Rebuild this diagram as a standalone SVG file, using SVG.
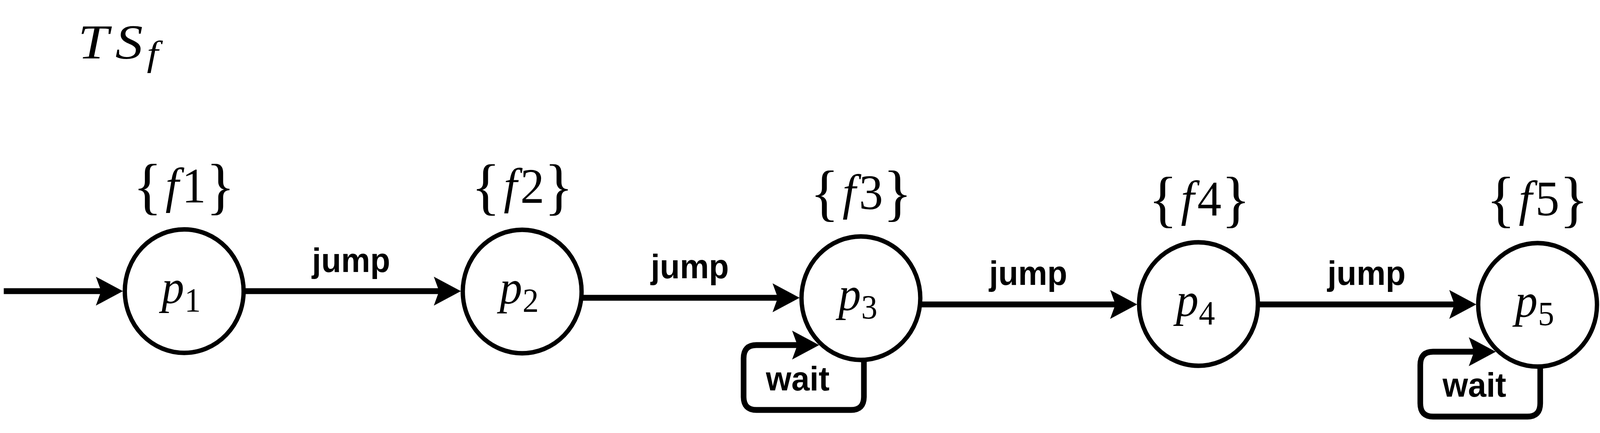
<svg xmlns="http://www.w3.org/2000/svg" width="4256" height="1108" viewBox="0 0 4256 1108">
  <defs>
    <style>
      .node { fill: #ffffff; stroke: #000000; stroke-width: 11.5; }
      .edge { fill: none; stroke: #000000; stroke-width: 15; }
      .math { font-family: "Liberation Serif", "Times New Roman", serif; fill: #000000; }
      .it { font-style: italic; }
      .lbl { font-family: "Liberation Sans", Arial, Helvetica, sans-serif; font-weight: bold; font-size: 87px; fill: #000000; text-anchor: middle; }
      .br { font-size: 160px; }
      .fd { font-size: 128px; }
      .pl { font-size: 120px; }
      .sub { font-size: 86px; }
    </style>
    <marker id="arrow" markerUnits="userSpaceOnUse" viewBox="-16 -37 72 74" refX="0" refY="0" markerWidth="72" markerHeight="74" orient="auto" overflow="visible">
      <path d="M56,0 L-16,-37 L-2,0 L-16,37 Z" fill="#000000"/>
    </marker>
  </defs>
  <rect x="0" y="0" width="4256" height="1108" fill="#ffffff"/>

  <g id="diagram" transform="scale(0.9624,1)">
  <g id="title">
    <text class="math it" font-size="124" transform="scale(1.18,1)"><tspan x="176" y="150">T</tspan><tspan x="260" y="150">S</tspan><tspan x="331" y="168" font-size="92">f</tspan></text>
  </g>

  <g id="label-f1">
    <text class="math"><tspan class="br" x="354" y="530">{</tspan><tspan class="fd it" x="440" y="518">f</tspan><tspan class="fd" x="484" y="518">1</tspan><tspan class="br" x="548" y="530">}</tspan></text>
  </g>
  <g id="label-f2">
    <text class="math"><tspan class="br" x="1254" y="531">{</tspan><tspan class="fd it" x="1340" y="519">f</tspan><tspan class="fd" x="1384" y="519">2</tspan><tspan class="br" x="1448" y="531">}</tspan></text>
  </g>
  <g id="label-f3">
    <text class="math"><tspan class="br" x="2155" y="547">{</tspan><tspan class="fd it" x="2241" y="535">f</tspan><tspan class="fd" x="2285" y="535">3</tspan><tspan class="br" x="2349" y="547">}</tspan></text>
  </g>
  <g id="label-f4">
    <text class="math"><tspan class="br" x="3055" y="563">{</tspan><tspan class="fd it" x="3141" y="551">f</tspan><tspan class="fd" x="3185" y="551">4</tspan><tspan class="br" x="3249" y="563">}</tspan></text>
  </g>
  <g id="label-f5">
    <text class="math"><tspan class="br" x="3954" y="563">{</tspan><tspan class="fd it" x="4040" y="551">f</tspan><tspan class="fd" x="4084" y="551">5</tspan><tspan class="br" x="4148" y="563">}</tspan></text>
  </g>

  <g id="node-p1">
    <circle class="node" cx="490" cy="745" r="158"/>
    <text class="math"><tspan class="it pl" x="430" y="775">p</tspan><tspan class="sub" x="491" y="797">1</tspan></text>
  </g>
  <g id="node-p2">
    <circle class="node" cx="1389" cy="746" r="158"/>
    <text class="math"><tspan class="it pl" x="1329" y="776">p</tspan><tspan class="sub" x="1390" y="798">2</tspan></text>
  </g>
  <g id="node-p3">
    <circle class="node" cx="2290" cy="763" r="158"/>
    <text class="math"><tspan class="it pl" x="2230" y="793">p</tspan><tspan class="sub" x="2291" y="815">3</tspan></text>
  </g>
  <g id="node-p4">
    <circle class="node" cx="3188" cy="778" r="158"/>
    <text class="math"><tspan class="it pl" x="3128" y="808">p</tspan><tspan class="sub" x="3189" y="830">4</tspan></text>
  </g>
  <g id="node-p5">
    <circle class="node" cx="4090" cy="780" r="158"/>
    <text class="math"><tspan class="it pl" x="4030" y="810">p</tspan><tspan class="sub" x="4091" y="832">5</tspan></text>
  </g>

  <g id="connectors">
    <path id="e-init" class="edge" d="M10,745 H271" marker-end="url(#arrow)"/>
    <path id="e-p1-p2" class="edge" d="M648,745 H1170" marker-end="url(#arrow)"/>
    <path id="e-p2-p3" class="edge" d="M1546,762 H2071" marker-end="url(#arrow)"/>
    <path id="e-p3-p4" class="edge" d="M2447,779 H2969" marker-end="url(#arrow)"/>
    <path id="e-p4-p5" class="edge" d="M3346,779 H3871" marker-end="url(#arrow)"/>
    <path id="e-p3-loop" class="edge" d="M2298,922 V1015 Q2298,1049 2264,1049 H2012 Q1978,1049 1978,1015 V917 Q1978,883 2012,883 H2123" marker-end="url(#arrow)"/>
    <path id="e-p5-loop" class="edge" d="M4097,938 V1032 Q4097,1066 4063,1066 H3812 Q3778,1066 3778,1032 V934 Q3778,900 3812,900 H3923" marker-end="url(#arrow)"/>
    <text class="lbl" x="934" y="696">jump</text>
    <text class="lbl" x="1835" y="712">jump</text>
    <text class="lbl" x="2735" y="729">jump</text>
    <text class="lbl" x="3635" y="729">jump</text>
    <text class="lbl" x="2122" y="999">wait</text>
    <text class="lbl" x="3922" y="1015">wait</text>
  </g>
  </g>
</svg>
